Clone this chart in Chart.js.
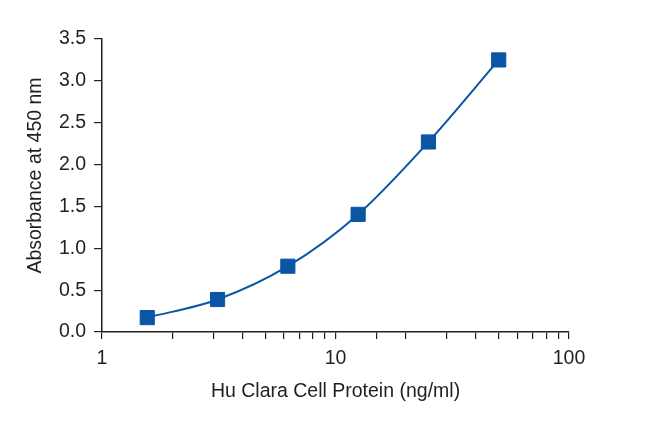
<!DOCTYPE html>
<html>
<head>
<meta charset="utf-8">
<script src="https://cdn.jsdelivr.net/npm/chart.js@4"></script>
<style>
html,body{margin:0;padding:0;background:#fff;}
#wrap{width:661px;height:424px;}
</style>
</head>
<body>
<div id="wrap"><canvas id="c" width="661" height="424"></canvas></div>
<script>
const concentrations = [1.5625, 3.125, 6.25, 12.5, 25, 50];
const absorbance = [0.172, 0.388, 0.786, 1.405, 2.27, 3.25];
const xMajorTicks = [1, 10, 100];
const xTitle = 'Hu Clara Cell Protein (ng/ml)';
const yTitle = 'Absorbance at 450 nm';

const blue = '#0a55a4';
const axisColor = '#231f20';
const textColor = '#231f20';
const fontFamily = "'Liberation Sans', Arial, sans-serif";

const yTitlePlugin = {
  id: 'yTitle',
  afterDraw(chart) {
    const ctx = chart.ctx;
    const area = chart.chartArea;
    ctx.save();
    ctx.font = '19.5px ' + fontFamily;
    ctx.fillStyle = textColor;
    ctx.textAlign = 'center';
    ctx.textBaseline = 'middle';
    ctx.translate(36, (area.top + area.bottom) / 2 - 10);
    ctx.rotate(-Math.PI / 2);
    ctx.fillText(yTitle, 0, 0);
    ctx.restore();
  }
};

new Chart(document.getElementById('c'), {
  type: 'line',
  data: {
    datasets: [{
      data: concentrations.map((x, i) => ({x: x, y: absorbance[i]})),
      borderColor: blue,
      backgroundColor: blue,
      borderWidth: 2,
      pointStyle: 'rect',
      pointRadius: 10,
      pointBorderWidth: 1,
      pointBorderColor: blue,
      pointBackgroundColor: blue,
      cubicInterpolationMode: 'monotone',
      fill: false
    }]
  },
  plugins: [yTitlePlugin],
  options: {
    responsive: false,
    animation: false,
    events: [],
    layout: {padding: {top: 39, right: 92, left: 0, bottom: 0}},
    plugins: {legend: {display: false}, tooltip: {enabled: false}},
    scales: {
      x: {
        type: 'logarithmic',
        min: 1, max: 100,
        afterFit: s => { s.height = 92; },
        border: {display: true, color: axisColor, width: 1.5},
        grid: {drawOnChartArea: false, drawTicks: true, tickLength: 7, color: axisColor, lineWidth: 1.2},
        ticks: {
          autoSkip: false,
          maxRotation: 0,
          padding: 8,
          color: textColor,
          font: {family: fontFamily, size: 19.5},
          callback: v => xMajorTicks.includes(v) ? String(v) : ''
        },
        title: {display: true, text: xTitle, color: textColor,
          font: {family: fontFamily, size: 19.5}, padding: {top: 0, bottom: 21}}
      },
      y: {
        min: 0, max: 3.5,
        afterFit: s => { s.width = 102; },
        border: {display: true, color: axisColor, width: 1.5},
        grid: {drawOnChartArea: false, drawTicks: true, tickLength: 8, color: axisColor, lineWidth: 1.2},
        ticks: {
          stepSize: 0.5,
          padding: 8,
          color: textColor,
          font: {family: fontFamily, size: 19.5},
          callback: v => Number(v).toFixed(1)
        },
        title: {display: false}
      }
    }
  }
});
</script>
</body>
</html>
